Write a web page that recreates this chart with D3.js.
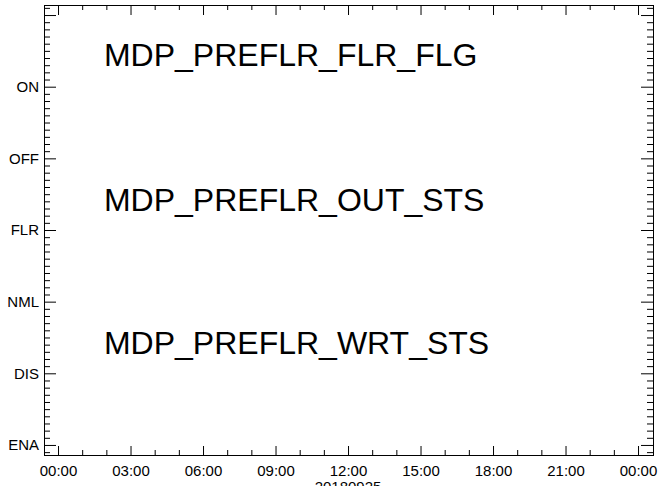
<!DOCTYPE html>
<html>
<head>
<meta charset="utf-8">
<script src="https://cdn.jsdelivr.net/npm/d3@7"></script>
<style>
  body { margin: 0; background: #fff; }
  svg { display: block; font-family: "Liberation Sans", Arial, sans-serif; }
  .axis text { font-size: 15px; fill: #000; }
  .axis line { stroke: #000; }
</style>
</head>
<body>
<div id="chart"></div>
<script>
// status levels on the y axis, bottom to top
const states = ['ENA', 'DIS', 'NML', 'FLR', 'OFF', 'ON'];
// hourly tick labels every 3 h on 2018-09-25
const hourTicks = [0, 3, 6, 9, 12, 15, 18, 21, 24];
const dateLabel = '20180925';
// telemetry names written inside the plot, with their level
const mnemonics = ['MDP_PREFLR_FLR_FLG', 'MDP_PREFLR_OUT_STS', 'MDP_PREFLR_WRT_STS'];
const mnemonicLevels = [5.29, 3.26, 1.27];

const width = 659;
const height = 486;
const margin = { top: 5, right: 6, bottom: 31, left: 44 };

const svg = d3.select('#chart').append('svg')
  .attr('width', width)
  .attr('height', height);

const day = Date.UTC(2018, 8, 25);
const hour = 3600 * 1000;

const x = d3.scaleUtc()
  .domain([new Date(day - 0.58 * hour), new Date(day + 24.62 * hour)])
  .range([margin.left, width - margin.right]);

const y = d3.scaleLinear()
  .domain([-0.14, 6.14])
  .range([height - margin.bottom, margin.top]);

const majorX = hourTicks.map(h => new Date(day + h * hour));
const minorX = d3.range(0, 25).filter(h => h % 3 !== 0).map(h => new Date(day + h * hour));
const majorY = d3.range(0, 7);
const minorY = d3.range(-1, 62).filter(v => v % 10 !== 0).map(v => v / 10);

const fmt = d3.utcFormat('%H:%M');

function drawAxis(axis, transform) {
  const g = svg.append('g').attr('class', 'axis').attr('transform', transform).call(axis);
  g.select('.domain').remove();
  return g;
}

// bottom
drawAxis(d3.axisBottom(x).tickValues(majorX).tickSize(-9).tickPadding(10).tickFormat(fmt),
  `translate(0,${y.range()[0]})`);
drawAxis(d3.axisBottom(x).tickValues(minorX).tickSize(-5).tickFormat(''),
  `translate(0,${y.range()[0]})`);
// top
drawAxis(d3.axisTop(x).tickValues(majorX).tickSize(-10).tickFormat(''),
  `translate(0,${y.range()[1]})`);
drawAxis(d3.axisTop(x).tickValues(minorX).tickSize(-5).tickFormat(''),
  `translate(0,${y.range()[1]})`);
// left
drawAxis(d3.axisLeft(y).tickValues(majorY).tickSize(-12).tickPadding(5)
  .tickFormat(d => states[d] || ''), `translate(${x.range()[0]},0)`);
drawAxis(d3.axisLeft(y).tickValues(minorY).tickSize(-6).tickFormat(''),
  `translate(${x.range()[0]},0)`);
// right
drawAxis(d3.axisRight(y).tickValues(majorY).tickSize(-12).tickFormat(''),
  `translate(${x.range()[1]},0)`);
drawAxis(d3.axisRight(y).tickValues(minorY).tickSize(-6).tickFormat(''),
  `translate(${x.range()[1]},0)`);

// frame
svg.append('rect')
  .attr('x', x.range()[0] + 0.5)
  .attr('y', y.range()[1] + 0.5)
  .attr('width', x.range()[1] - x.range()[0])
  .attr('height', y.range()[0] - y.range()[1])
  .attr('fill', 'none')
  .attr('stroke', '#000');

// date under the time axis (cut by the bottom edge, as in the source)
svg.append('text')
  .attr('x', x(new Date(day + 12 * hour)))
  .attr('y', 492)
  .attr('text-anchor', 'middle')
  .style('font-size', '15px')
  .text(dateLabel);

// mnemonic names
svg.selectAll('.mnemonic')
  .data(mnemonics)
  .join('text')
  .attr('class', 'mnemonic')
  .attr('x', x(new Date(day + 1.9 * hour)))
  .attr('y', (d, i) => y(mnemonicLevels[i]))
  .style('font-size', '32px')
  .text(d => d);
</script>
</body>
</html>
